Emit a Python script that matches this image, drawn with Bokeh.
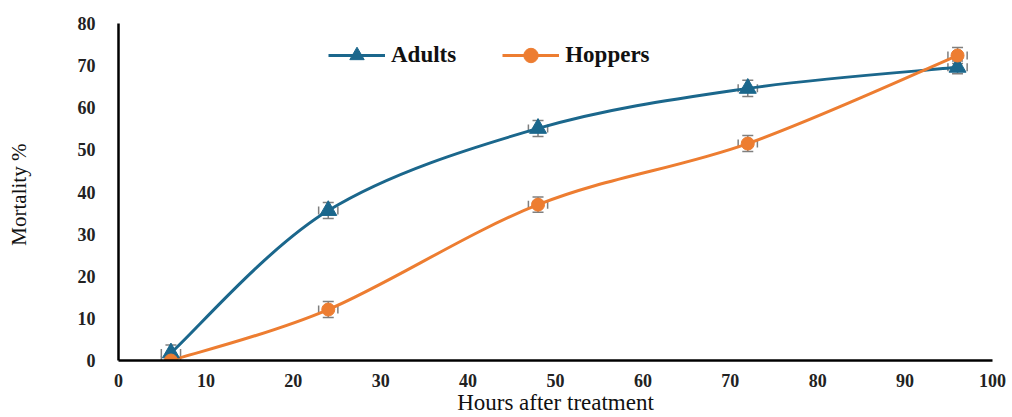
from bokeh.plotting import figure
from bokeh.models import (ColumnDataSource, Whisker, TeeHead, Legend, LegendItem,
                          FixedTicker)
from bokeh.embed import file_html
from bokeh.resources import INLINE

# ---- data ----
hours = [6, 24, 48, 72, 96]
adults = [1.8, 35.6, 55.1, 64.6, 69.6]
hoppers = [0.0, 12.1, 37.0, 51.5, 72.4]
adults_err = [1.9, 1.9, 1.9, 1.9, 1.5]
hoppers_err = [0.0, 1.9, 1.8, 1.9, 1.9]
hours_err = [1.1, 1.1, 1.1, 1.1, 1.1]
x_ticks = [0, 10, 20, 30, 40, 50, 60, 70, 80, 90, 100]
y_ticks = [0, 10, 20, 30, 40, 50, 60, 70, 80]

BLUE = "#1b678c"
ORANGE = "#ed7d31"
GRAY = "#7f7f7f"
FONT = "Liberation Serif"


def bezier_source(xs, ys):
    # smoothed-line control points (Catmull-Rom style, as a spreadsheet's smooth line)
    n = len(xs)
    d = dict(x0=[], y0=[], x1=[], y1=[], cx0=[], cy0=[], cx1=[], cy1=[])
    for i in range(n - 1):
        xp, yp = (xs[i - 1], ys[i - 1]) if i > 0 else (xs[i], ys[i])
        xn, yn = (xs[i + 2], ys[i + 2]) if i + 2 < n else (xs[i + 1], ys[i + 1])
        d["x0"].append(xs[i]); d["y0"].append(ys[i])
        d["x1"].append(xs[i + 1]); d["y1"].append(ys[i + 1])
        d["cx0"].append(xs[i] + (xs[i + 1] - xp) / 6.0)
        d["cy0"].append(ys[i] + (ys[i + 1] - yp) / 6.0)
        d["cx1"].append(xs[i + 1] - (xn - xs[i]) / 6.0)
        d["cy1"].append(ys[i + 1] - (yn - ys[i]) / 6.0)
    return ColumnDataSource(d)


p = figure(width=1012, height=417, x_range=(0, 100), y_range=(0, 80),
           output_backend="svg", toolbar_location=None,
           min_border_left=118, min_border_right=20, min_border_top=23,
           min_border_bottom=57)
p.outline_line_color = None
p.xgrid.visible = False
p.ygrid.visible = False
p.background_fill_color = "white"

for ax in (p.xaxis[0], p.yaxis[0]):
    ax.axis_line_color = "black"
    ax.axis_line_width = 2.5
    ax.major_tick_line_color = None
    ax.minor_tick_line_color = None
    ax.major_label_text_font = FONT
    ax.major_label_text_font_size = "18px"
    ax.major_label_text_color = "#222222"
    ax.major_label_text_font_style = "bold"
    ax.axis_label_text_font = FONT
    ax.axis_label_text_font_style = "normal"
    ax.axis_label_text_color = "#111111"
p.xaxis.ticker = FixedTicker(ticks=x_ticks)
p.yaxis.ticker = FixedTicker(ticks=y_ticks)
p.xaxis.major_label_standoff = 7
p.yaxis.major_label_standoff = 17
p.xaxis.axis_label = "Hours after treatment"
p.xaxis.axis_label_text_font_size = "23px"
p.xaxis.axis_label_standoff = 0
p.yaxis.axis_label = "Mortality  %"
p.yaxis.axis_label_text_font_size = "21px"
p.yaxis.axis_label_standoff = 44

# smoothed curves
sa = bezier_source(hours, adults)
sh = bezier_source(hours, hoppers)
p.bezier(x0="x0", y0="y0", x1="x1", y1="y1", cx0="cx0", cy0="cy0", cx1="cx1", cy1="cy1",
         source=sa, line_color=BLUE, line_width=3)
p.bezier(x0="x0", y0="y0", x1="x1", y1="y1", cx0="cx0", cy0="cy0", cx1="cx1", cy1="cy1",
         source=sh, line_color=ORANGE, line_width=3)

src_a = ColumnDataSource(dict(x=hours, y=adults,
                              up=[a + e for a, e in zip(adults, adults_err)],
                              lo=[a - e for a, e in zip(adults, adults_err)],
                              xl=[h - e for h, e in zip(hours, hours_err)],
                              xu=[h + e for h, e in zip(hours, hours_err)]))
src_h = ColumnDataSource(dict(x=hours, y=hoppers,
                              up=[a + e for a, e in zip(hoppers, hoppers_err)],
                              lo=[a - e for a, e in zip(hoppers, hoppers_err)],
                              xl=[h - e for h, e in zip(hours, hours_err)],
                              xu=[h + e for h, e in zip(hours, hours_err)]))

ma = p.scatter("x", "y", source=src_a, marker="triangle", size=17,
               fill_color=BLUE, line_color=BLUE)
mh = p.scatter("x", "y", source=src_h, marker="circle", size=13,
               fill_color=ORANGE, line_color=ORANGE)

for src in (src_a, src_h):
    p.add_layout(Whisker(source=src, base="x", upper="up", lower="lo", dimension="height",
                         line_color=GRAY, line_width=1.5,
                         upper_head=TeeHead(size=11, line_color=GRAY, line_width=1.5),
                         lower_head=TeeHead(size=11, line_color=GRAY, line_width=1.5)))
    p.add_layout(Whisker(source=src, base="y", upper="xu", lower="xl", dimension="width",
                         line_color=GRAY, line_width=1.5, line_alpha=0.0,
                         upper_head=TeeHead(size=8, line_color=GRAY, line_width=1.5),
                         lower_head=TeeHead(size=8, line_color=GRAY, line_width=1.5)))

# legend line samples (a single undefined point: nothing drawn in the plot)
nan = float("nan")
la = p.line(x=[nan], y=[nan], line_color=BLUE, line_width=3)
lh = p.line(x=[nan], y=[nan], line_color=ORANGE, line_width=3)
legend = Legend(items=[LegendItem(label="Adults", renderers=[la, ma]),
                       LegendItem(label="Hoppers", renderers=[lh, mh])],
                orientation="horizontal", location=(210, 287),
                label_text_font=FONT, label_text_font_size="23px",
                label_text_font_style="bold", label_text_color="#111111",
                glyph_width=57, glyph_height=36, label_standoff=6, spacing=46,
                padding=0, margin=0, border_line_color=None,
                background_fill_alpha=0.0)
p.add_layout(legend, "center")

open("out.html", "w").write(file_html(p, INLINE))
